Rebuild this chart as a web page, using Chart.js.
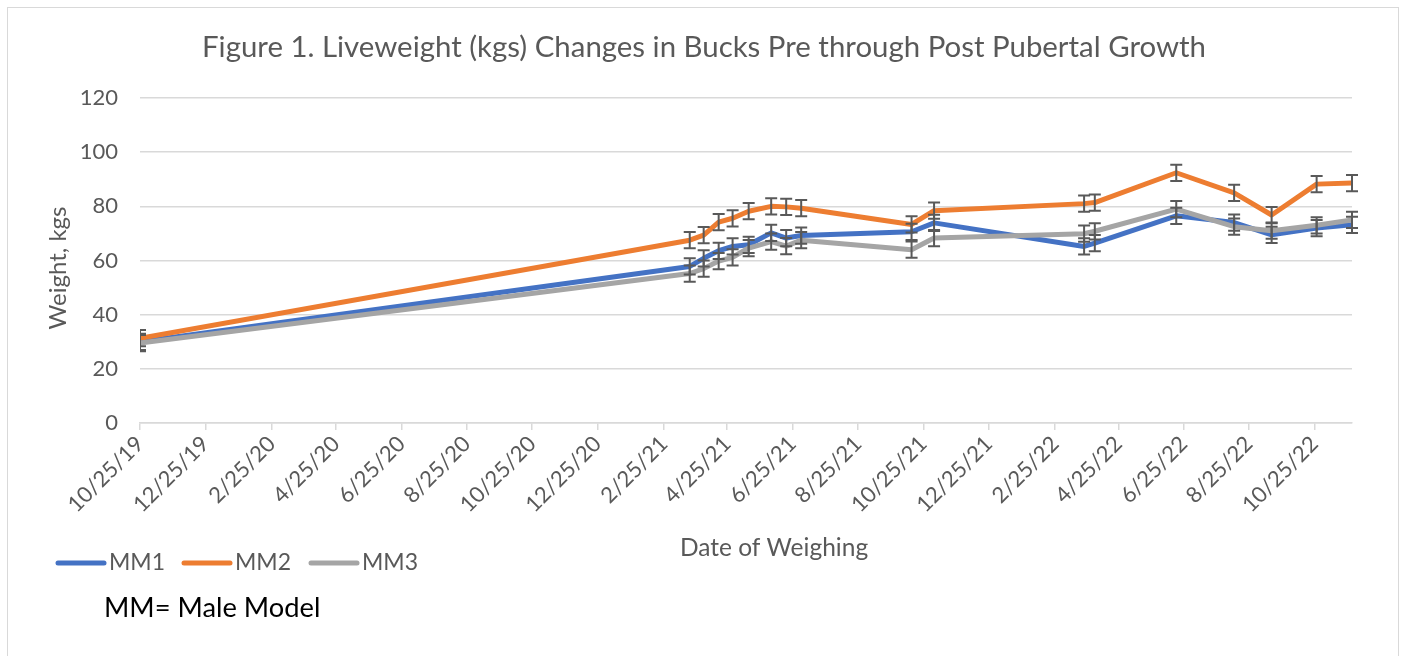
<!DOCTYPE html>
<html><head><meta charset="utf-8">
<script src="https://cdn.jsdelivr.net/npm/chart.js@4.4.1/dist/chart.umd.min.js"></script>
<style>
html,body{margin:0;padding:0;background:#fff;overflow:hidden;}
#wrap{position:relative;width:1409px;height:656px;}
#frame{position:absolute;left:7px;top:7px;width:1390px;height:700px;border:1px solid #d9d9d9;}
canvas{position:absolute;left:0;top:0;}
</style></head><body>
<div id="wrap"><div id="frame"></div><canvas id="c" width="1409" height="656"></canvas></div>
<script>
// ---- data ----
const weighDates = ['10/25/19','3/21/21','4/3/21','4/17/21','4/30/21','5/15/21','6/5/21','6/19/21','7/3/21',
  '10/14/21','11/4/21','3/24/22','4/3/22','6/18/22','8/11/22','9/15/22','10/27/22','11/29/22'];
const mm1 = [30.0, 57.8, 60.8, 63.6, 65.2, 65.8, 70.2, 68.3, 69.2, 70.6, 73.9, 65.2, 66.4, 76.5, 74.0, 69.5, 72.0, 73.2];
const mm2 = [31.3, 67.5, 69.4, 74.2, 75.6, 78.2, 80.0, 79.8, 79.3, 73.3, 78.4, 81.0, 81.4, 92.4, 85.0, 76.8, 88.2, 88.6];
const mm3 = [29.5, 55.2, 57.0, 59.8, 61.2, 64.6, 67.0, 65.3, 67.5, 64.0, 68.3, 69.9, 70.8, 79.0, 72.5, 71.0, 73.0, 75.0];
const mm1Err = [3, 3, 3, 3, 3, 3, 3, 3, 3, 3, 3, 3, 3, 3, 3, 3, 3, 3];
const mm2Err = [3, 3, 3, 3, 3, 3, 3, 3, 3, 3, 3, 3, 3, 3, 3, 3, 3, 3];
const mm3Err = [3, 3, 3, 3, 3, 3, 3, 3, 3, 3, 3, 3, 3, 3, 3, 3, 3, 3];
const xTickLabels = ['10/25/19','12/25/19','2/25/20','4/25/20','6/25/20','8/25/20','10/25/20','12/25/20','2/25/21',
  '4/25/21','6/25/21','8/25/21','10/25/21','12/25/21','2/25/22','4/25/22','6/25/22','8/25/22','10/25/22'];
const yTicks = [0, 20, 40, 60, 80, 100, 120];
const seriesNames = ['MM1', 'MM2', 'MM3'];
const seriesColors = ['#4472C4', '#ED7D31', '#A5A5A5'];
const chartTitle = 'Figure 1. Liveweight (kgs) Changes in Bucks Pre through Post Pubertal Growth';
const xTitle = 'Date of Weighing';
const yTitle = 'Weight, kgs';
const noteText = 'MM= Male Model';

// ---- helpers ----
function dayNum(s) {
  const [m, d, y] = s.split('/').map(Number);
  return Date.UTC(2000 + y, m - 1, d) / 86400000;
}
const base = dayNum(weighDates[0]);
const xs = weighDates.map(s => dayNum(s) - base);
const tickDays = xTickLabels.map(s => dayNum(s) - base);
const labelByDay = {};
tickDays.forEach((d, i) => { labelByDay[d] = xTickLabels[i]; });

const FONT = 'Lato';
const GREY = '#595959';
const series = [mm1, mm2, mm3];
const errs = [mm1Err, mm2Err, mm3Err];

const datasets = series.map((vals, i) => ({
  label: seriesNames[i],
  data: vals.map((v, j) => ({ x: xs[j], y: v })),
  borderColor: seriesColors[i],
  backgroundColor: seriesColors[i],
  borderWidth: 5,
  pointRadius: 0,
  tension: 0,
  borderJoinStyle: 'round',
  borderCapStyle: 'round',
  order: 2 - i,
  errors: errs[i]
}));

const errorBars = {
  id: 'errorBars',
  afterDatasetsDraw(chart) {
    const ctx = chart.ctx, ys = chart.scales.y, a = chart.chartArea;
    ctx.save();
    ctx.beginPath();
    ctx.rect(a.left, a.top - 20, a.right - a.left + 10, a.bottom - a.top + 40);
    ctx.clip();
    ctx.strokeStyle = GREY;
    ctx.lineWidth = 2;
    chart.data.datasets.forEach((ds, i) => {
      const meta = chart.getDatasetMeta(i);
      ds.data.forEach((p, j) => {
        const x = meta.data[j].x;
        const t = ys.getPixelForValue(p.y + ds.errors[j]);
        const b = ys.getPixelForValue(p.y - ds.errors[j]);
        ctx.beginPath();
        ctx.moveTo(x, t); ctx.lineTo(x, b);
        ctx.moveTo(x - 6, t); ctx.lineTo(x + 6, t);
        ctx.moveTo(x - 6, b); ctx.lineTo(x + 6, b);
        ctx.stroke();
      });
    });
    ctx.restore();
  }
};

const decorations = {
  id: 'decorations',
  afterDraw(chart) {
    const ctx = chart.ctx;
    ctx.save();
    ctx.fillStyle = GREY;
    ctx.font = `29.4px ${FONT}`;
    ctx.textAlign = 'center';
    ctx.textBaseline = 'alphabetic';
    ctx.fillText(chartTitle, 704, 57);

    ctx.font = `24.5px ${FONT}`;
    ctx.fillText(xTitle, 774, 556);

    ctx.save();
    ctx.translate(58, 268);
    ctx.rotate(-Math.PI / 2);
    ctx.textBaseline = 'middle';
    ctx.font = `24px ${FONT}`;
    ctx.fillText(yTitle, 0, 0);
    ctx.restore();

    // legend
    const legendX = [58, 184, 311];
    ctx.font = `23px ${FONT}`;
    ctx.textAlign = 'left';
    ctx.textBaseline = 'middle';
    seriesNames.forEach((n, i) => {
      ctx.strokeStyle = seriesColors[i];
      ctx.lineWidth = 5;
      ctx.lineCap = 'round';
      ctx.beginPath();
      ctx.moveTo(legendX[i], 563);
      ctx.lineTo(legendX[i] + 46, 563);
      ctx.stroke();
      ctx.fillStyle = GREY;
      ctx.fillText(n, legendX[i] + 51, 563);
    });

    ctx.fillStyle = '#000';
    ctx.font = `27.3px ${FONT}`;
    ctx.textBaseline = 'alphabetic';
    ctx.fillText(noteText, 104, 617);
    ctx.restore();
  }
};

new Chart(document.getElementById('c'), {
  type: 'line',
  data: { datasets },
  options: {
    responsive: false,
    animation: false,
    layout: { padding: { top: 98, right: 57, left: 0, bottom: 0 } },
    plugins: { legend: { display: false }, title: { display: false }, tooltip: { enabled: false } },
    scales: {
      x: {
        type: 'linear',
        min: 0,
        max: xs[xs.length - 1],
        afterFit(s) { s.height = 233; },
        afterBuildTicks(s) { s.ticks = tickDays.map(v => ({ value: v })); },
        grid: { drawOnChartArea: false, drawTicks: true, tickLength: 7, color: '#d9d9d9', lineWidth: 1.5 },
        border: { display: true, color: '#d9d9d9', width: 1.5 },
        ticks: {
          autoSkip: false, minRotation: 45, maxRotation: 45,
          color: GREY, font: { family: FONT, size: 22 }, padding: 1,
          callback: v => labelByDay[v] || ''
        }
      },
      y: {
        min: 0, max: 120,
        afterFit(s) { s.width = 140; },
        afterBuildTicks(s) { s.ticks = yTicks.map(v => ({ value: v })); },
        grid: { color: '#d9d9d9', lineWidth: 1.5, drawTicks: false },
        border: { display: false },
        ticks: { color: GREY, font: { family: FONT, size: 22 }, padding: 22 }
      }
    }
  },
  plugins: [errorBars, decorations]
});
</script>
</body></html>
